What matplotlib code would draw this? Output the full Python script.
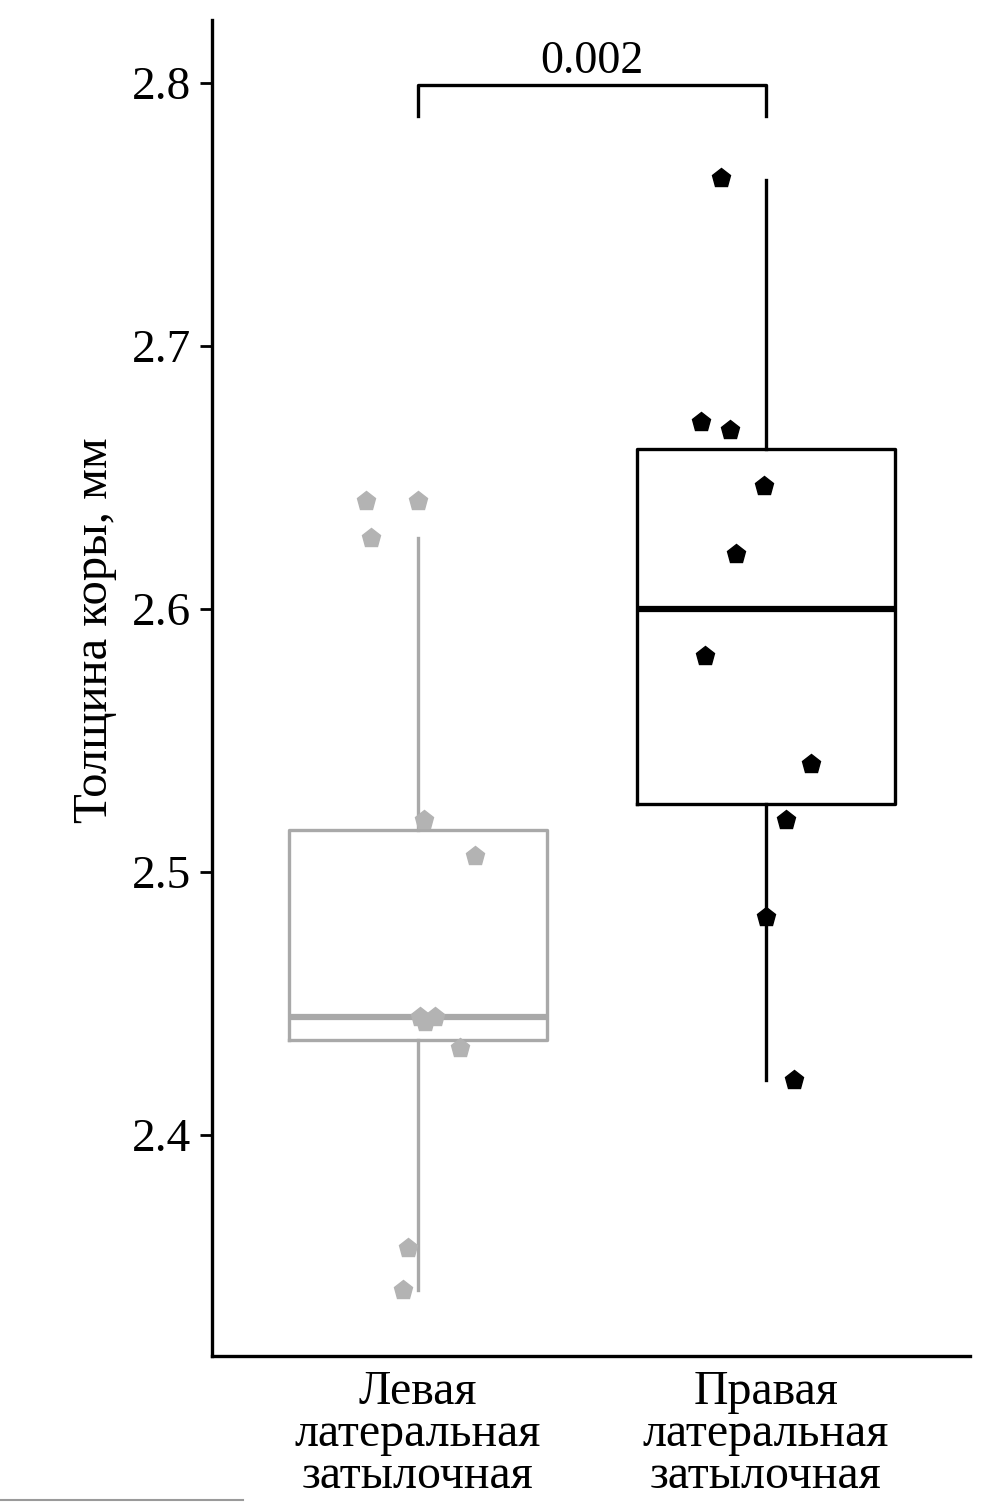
import matplotlib
matplotlib.use("Agg")
import matplotlib.pyplot as plt
from matplotlib.lines import Line2D

plt.rcParams["font.family"] = ["Liberation Serif", "DejaVu Serif"]

# groups
groups = ["Левая\nлатеральная\nзатылочная", "Правая\nлатеральная\nзатылочная"]

# box statistics
q1 = [2.436, 2.526]
med = [2.445, 2.600]
q3 = [2.516, 2.661]
whislo = [2.341, 2.421]
whishi = [2.627, 2.763]

# jittered points (x offset from group centre, value)
left_jit = [-0.15, 0.0, -0.135, 0.017, 0.163, 0.006, 0.049, 0.02, 0.12, -0.029, -0.043]
left_vals = [2.641, 2.641, 2.627, 2.520, 2.506, 2.445, 2.445, 2.443, 2.433, 2.357, 2.341]
right_jit = [-0.129, -0.187, -0.103, -0.006, -0.086, -0.175, 0.129, 0.057, 0.0, 0.08]
right_vals = [2.764, 2.671, 2.668, 2.647, 2.621, 2.582, 2.541, 2.520, 2.483, 2.421]

p_label = "0.002"

grey = "#a9a9a9"
pt_grey = "#b3b3b3"

fig = plt.figure(figsize=(10.04, 15.04), dpi=100)
ax = fig.add_axes([0.2112, 0.0984, 0.7549, 0.8883])

stats = []
for i in range(2):
    stats.append({"q1": q1[i], "med": med[i], "q3": q3[i],
                  "whislo": whislo[i], "whishi": whishi[i], "fliers": []})

colors = [grey, "black"]
for i in range(2):
    c = colors[i]
    ax.bxp([stats[i]], positions=[i + 1], widths=0.74, showcaps=False,
           showfliers=False, patch_artist=False,
           boxprops=dict(color=c, linewidth=2.4),
           whiskerprops=dict(color=c, linewidth=2.4),
           medianprops=dict(color=c, linewidth=4.5))

ax.plot([1 + j for j in left_jit], left_vals, linestyle="none", marker="p",
        markersize=14, color=pt_grey, zorder=3)
ax.plot([2 + j for j in right_jit], right_vals, linestyle="none", marker="p",
        markersize=14, color="black", zorder=3)

# significance bracket
ax.plot([1, 1, 2, 2], [2.7875, 2.7992, 2.7992, 2.7875], color="black",
        linewidth=2.4, clip_on=False)
ax.text(1.5, 2.8002, p_label, ha="center", va="bottom", fontsize=33)

ax.set_xlim(0.408, 2.586)
ax.set_ylim(2.316, 2.824)
ax.set_yticks([2.4, 2.5, 2.6, 2.7, 2.8])
ax.set_yticklabels(["2.4", "2.5", "2.6", "2.7", "2.8"])
ax.set_xticks([1, 2])
ax.set_xticklabels(groups, linespacing=0.95)

ax.tick_params(axis="y", labelsize=34, length=9, width=2, pad=6)
ax.tick_params(axis="x", labelsize=34.5, length=0, pad=10)

ax.spines["top"].set_visible(False)
ax.spines["right"].set_visible(False)
ax.spines["left"].set_linewidth(2.4)
ax.spines["bottom"].set_linewidth(2.4)

fig.text(95 / 1004, 1 - 630 / 1504, "Толщина коры, мм", rotation=90,
         ha="center", va="center", fontsize=35)

# thin grey rule at the bottom left of the page
fig.add_artist(Line2D([0, 243 / 1004], [4 / 1504, 4 / 1504], color="#9a9a9a",
                      linewidth=1.5))

fig.savefig("out.png", dpi=100)
